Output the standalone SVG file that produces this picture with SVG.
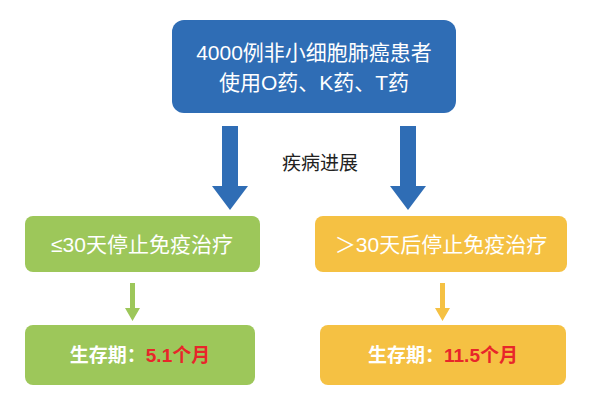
<svg xmlns="http://www.w3.org/2000/svg" width="600" height="404" viewBox="0 0 600 404">
<style>
.t{font-family:"Liberation Sans","Noto Sans CJK SC",sans-serif;}
.w{fill:#fff;font-size:21px}
.b{font-size:19px;font-weight:bold}
</style>
<rect width="600" height="404" fill="#fff"/>
<g id="top"><rect x="172" y="20" width="284" height="93" rx="12" fill="#2f6db5"/>
<text class="t w" x="314" y="60" text-anchor="middle">4000例非小细胞肺癌患者</text>
<text class="t w" x="314" y="90" text-anchor="middle">使用O药、K药、T药</text></g>
<g id="connectors">
<polygon points="222,126 238,126 238,186 248,186 230,210 212,186 222,186" fill="#2f6db5"/>
<polygon points="400,126 416,126 416,186 426,186 408,210 390,186 400,186" fill="#2f6db5"/>
<polygon points="130,283 135,283 135,308 140,308 132.5,321 125,308 130,308" fill="#9dc75a"/>
<polygon points="440,283 445,283 445,308 450,308 442.5,321 435,308 440,308" fill="#f5c143"/>
<text class="t" x="320" y="170" text-anchor="middle" font-size="19" fill="#222">疾病进展</text>
</g>
<g id="left"><rect x="25" y="216" width="235" height="56" rx="8" fill="#9dc75a"/>
<text class="t w" x="142" y="252" text-anchor="middle">≤30天停止免疫治疗</text></g>
<g id="right"><rect x="315" y="216" width="252" height="56" rx="8" fill="#f5c143"/>
<text class="t w" x="441" y="252" text-anchor="middle">＞30天后停止免疫治疗</text></g>
<g id="leftres"><rect x="25" y="325" width="230" height="60" rx="8" fill="#9dc75a"/>
<text class="t b" x="140" y="362" text-anchor="middle"><tspan fill="#fff">生存期：</tspan><tspan fill="#e8262a">5.1个月</tspan></text></g>
<g id="rightres"><rect x="320" y="325" width="246" height="60" rx="8" fill="#f5c143"/>
<text class="t b" x="443" y="362" text-anchor="middle"><tspan fill="#fff">生存期：</tspan><tspan fill="#e8262a">11.5个月</tspan></text></g>
</svg>
